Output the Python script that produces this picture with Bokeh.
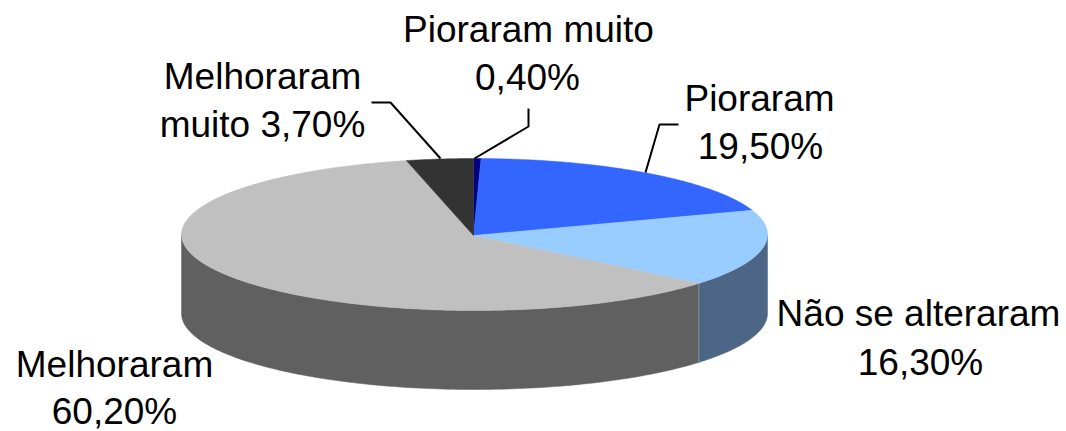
import numpy as np
from bokeh.plotting import figure
from bokeh.models import Range1d
from bokeh.core.properties import value
from bokeh.embed import file_html
from bokeh.resources import INLINE

# data, clockwise from 12 o'clock
categories = ["Pioraram muito", "Pioraram", "Não se alteraram", "Melhoraram", "Melhoraram muito"]
shares = [0.4, 19.5, 16.3, 60.2, 3.7]
top_colors = ["#000080", "#3366FF", "#99CCFF", "#C0C0C0", "#333333"]
side_colors = ["#000050", "#204099", "#4D6685", "#606060", "#1F1F1F"]

label_lines = [["Pioraram muito", "0,40%"], ["Pioraram", "19,50%"], ["Não se alteraram", "16,30%"],
               ["Melhoraram", "60,20%"], ["Melhoraram", "muito 3,70%"]]
label_x = [[528, 527], [759, 760], [918, 920], [114, 114], [262, 262]]
label_y = [[43, 91], [112, 160], [327, 376], [378, 425], [90, 138]]
leader_anchor = [(474, 158), (645, 172), None, None, (440, 158)]
leader_mid = [[(528, 126), (528, 108)], [(659, 124), (678, 124)], None, None, [(390, 102), (371, 102)]]

CX, CY, RX, RY, DEPTH = 474.0, 234.0, 293.0, 76.0, 79.0
START = np.radians(-0.15)
TEXT_DY = -14


def ell(a):
    return CX + RX * np.sin(a), CY - RY * np.cos(a)


p = figure(width=1066, height=431, x_range=Range1d(0, 1066), y_range=Range1d(431, 0),
           output_backend="svg", toolbar_location=None, min_border=0, outline_line_color=None,
           background_fill_color="white", border_fill_color="white")
p.axis.visible = False
p.grid.visible = False

edges = START + np.concatenate([[0], np.cumsum(shares)]) / sum(shares) * 2 * np.pi

# side walls: only the front half of the rim is visible
for i in range(len(shares)):
    a0, a1 = max(edges[i], np.pi / 2), min(edges[i + 1], 3 * np.pi / 2)
    if a1 <= a0:
        continue
    t = np.linspace(a0, a1, 120)
    x, y = ell(t)
    p.patch(np.r_[x, x[::-1]], np.r_[y, (y + DEPTH)[::-1]], fill_color=side_colors[i],
            line_color=side_colors[i], line_width=0.5)

# edge between the two visible walls
ax, ay = ell(edges[3])
p.line([ax, ax], [ay, ay + DEPTH], line_color="#8090A0", line_width=1)

# top faces
for i in range(len(shares)):
    t = np.linspace(edges[i], edges[i + 1], max(3, int(shares[i] * 8)))
    x, y = ell(t)
    p.patch(np.r_[CX - 1, x], np.r_[CY + 1, y], fill_color=top_colors[i], line_color=top_colors[i], line_width=0.5)

# leader lines
for anc, mid in zip(leader_anchor, leader_mid):
    if anc is None:
        continue
    pts = [anc] + mid
    p.line([q[0] for q in pts], [q[1] for q in pts], line_color="black", line_width=2)

# labels
for lines, lxs, lys in zip(label_lines, label_x, label_y):
    for s, lx, ly in zip(lines, lxs, lys):
        p.text([lx], [ly + TEXT_DY], text=[s], text_font=value("Liberation Sans"), text_font_size="37px",
               text_color="black", text_align="center", text_baseline="alphabetic")

open("out.html", "w").write(file_html(p, INLINE))
